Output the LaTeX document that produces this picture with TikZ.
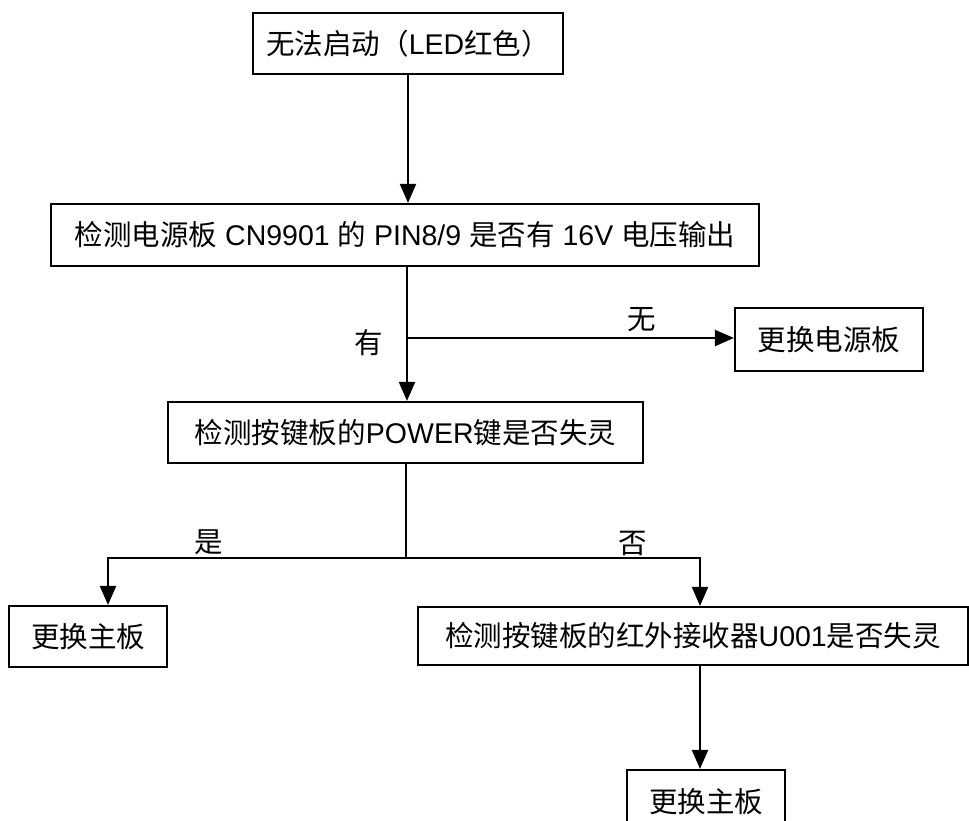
\documentclass[tikz,border=0pt]{standalone}
\usepackage{fontspec}
\setmainfont{Liberation Sans}
\newfontfamily\cj{Noto Sans CJK SC}
\usetikzlibrary{arrows.meta}
\begin{document}
\begin{tikzpicture}[x=1pt,y=-1pt,
  every node/.style={font=\fontsize{28.5pt}{32pt}\selectfont},
  boxnode/.style={draw,line width=2.2pt,inner sep=0pt,anchor=center},
  lbl/.style={inner sep=0pt,anchor=center},
  conn/.style={line width=2.2pt},
  arr/.style={line width=2.2pt,-{Triangle[length=19pt,width=16pt]}}]
\useasboundingbox (0,0) rectangle (969,820);
% boxes
\node[boxnode,minimum width=310pt,minimum height=61pt] (b1) at (408,43.5) {{\cj 无法启动（}LED{\cj 红色）}};
\node[boxnode,minimum width=708pt,minimum height=62pt] (b2) at (405,235) {{\cj 检测电源板} CN9901 {\cj 的} PIN8/9 {\cj 是否有} 16V {\cj 电压输出}};
\node[boxnode,minimum width=188pt,minimum height=63pt] (b3p) at (829,339.5) {\cj 更换电源板};
\node[boxnode,minimum width=475pt,minimum height=61pt] (b3) at (405.5,432.5) {{\cj 检测按键板的}POWER{\cj 键是否失灵}};
\node[boxnode,minimum width=158pt,minimum height=61pt] (bl) at (88,636.5) {\cj 更换主板};
\node[boxnode,minimum width=550pt,minimum height=58pt] (b4) at (693,636) {{\cj 检测按键板的红外接收器}U001{\cj 是否失灵}};
\node[boxnode,minimum width=158pt,minimum height=64pt] (bb) at (706,802) {\cj 更换主板};
% junctions
\coordinate (j1) at (407,338);
\coordinate (j2) at (406,558);
\coordinate (jl) at (108,558);
\coordinate (jr) at (700,558);
% connectors
\draw[arr] (b1.south) -- (b2.north -| b1.south);
\draw[arr] (b2.south -| j1) -- (b3.north -| j1);
\draw[arr] (j1) -- (j1 -| b3p.west);
\draw[conn] (b3.south -| j2) -- (j2);
\draw[arr] (j2) -- (jl) -- (jl |- bl.north);
\draw[arr] (j2) -- (jr) -- (jr |- b4.north);
\draw[arr] (b4.south -| jr) -- (bb.north -| jr);
% labels
\node[lbl] (ly) at (369,343) {\cj 有};
\node[lbl] (ln) at (642,320) {\cj 无};
\node[lbl] (ls) at (209,542) {\cj 是};
\node[lbl] (lf) at (633,543) {\cj 否};
\end{tikzpicture}
\end{document}
